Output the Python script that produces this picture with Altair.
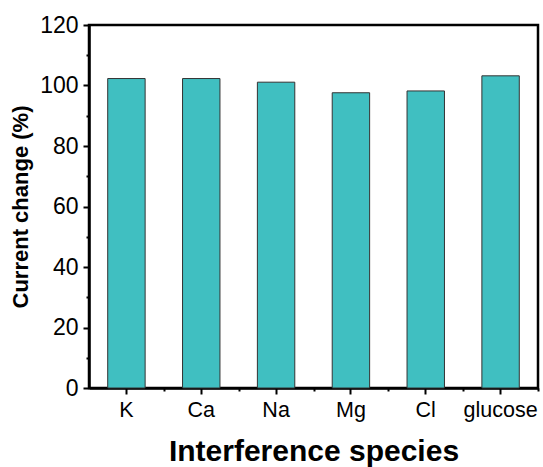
import altair as alt
import pandas as pd

categories = ["K", "Ca", "Na", "Mg", "Cl", "glucose"]
values = [102.3, 102.3, 101.1, 97.6, 98.2, 103.2]
y_major = [0, 20, 40, 60, 80, 100, 120]
y_minor = [10, 30, 50, 70, 90, 110]

df = pd.DataFrame({"species": categories, "change": values})

FONT = "Liberation Sans"
W, H = 449, 363
STEP = W / len(categories)

xscale = alt.Scale(domain=categories, paddingInner=0.5, paddingOuter=0.25)
yscale = alt.Scale(domain=[0, 120], nice=False)

bars = alt.Chart(df).mark_bar(
    color="#40BFC1", stroke="#333333", strokeWidth=1
).encode(
    x=alt.X("species:N", scale=xscale, sort=categories,
            axis=alt.Axis(title="Interference species", orient="bottom",
                          labelAngle=0, labelFontSize=21.5, labelFont=FONT,
                          labelColor="black", labelPadding=5,
                          titleFontSize=30, titleFont=FONT, titleFontWeight="bold",
                          titleColor="black", titlePadding=16,
                          domainColor="black", domainWidth=2.5,
                          tickColor="black", tickWidth=2, tickSize=6)),
    y=alt.Y("change:Q", scale=yscale,
            axis=alt.Axis(title="Current change (%)", orient="left",
                          values=y_major, labelFontSize=23, labelFont=FONT,
                          labelColor="black", labelPadding=5,
                          titleFontSize=22, titleFont=FONT, titleFontWeight="bold",
                          titleColor="black", titlePadding=7,
                          domainColor="black", domainWidth=2.5,
                          tickColor="black", tickWidth=2, tickSize=6, grid=False)),
)

minor = alt.Chart(df).mark_bar(opacity=0).encode(
    x=alt.X("species:N", scale=xscale, sort=categories,
            axis=alt.Axis(title=None, orient="bottom", labels=False, domain=False,
                          tickOffset=STEP / 2, tickColor="black", tickWidth=2,
                          tickSize=3)),
    y=alt.Y("change:Q", scale=yscale,
            axis=alt.Axis(title=None, orient="left", labels=False, domain=False,
                          values=y_minor, tickColor="black", tickWidth=2,
                          tickSize=3, grid=False)),
)

chart = alt.layer(bars, minor).resolve_axis(x="independent", y="independent").properties(
    width=W, height=H,
    autosize=alt.AutoSizeParams(type="none"),
    padding={"left": 89, "top": 25, "right": 5, "bottom": 79},
).configure_view(stroke="black", strokeWidth=2.5)

chart.save("out.html", embed_options={"renderer": "svg", "actions": False})
